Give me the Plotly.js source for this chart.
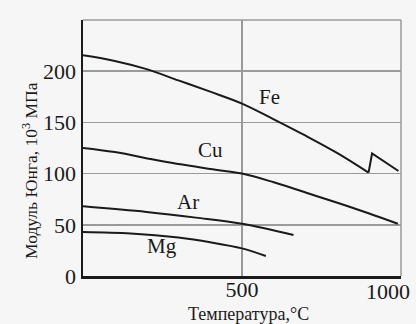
<!DOCTYPE html>
<html>
<head>
<meta charset="utf-8">
<script src="https://cdn.plot.ly/plotly-3.0.1.min.js"></script>
<style>html,body{margin:0;padding:0;background:#f6f6f6;}#chart{width:416px;height:324px;}</style>
</head>
<body>
<div id="chart"></div>
<script>
// Data
var feX = [0, 100, 200, 300, 400, 500, 600, 700, 800, 898];
var feY = [215.5, 210, 202, 191, 180, 168.4, 153, 137, 120, 101];
var feJumpX = [898, 909, 992];
var feJumpY = [101, 119.6, 102.5];
var cuX = [0, 100, 250, 400, 500, 600, 700, 800, 900, 990];
var cuY = [125, 121, 112, 104.5, 100, 91.5, 81.5, 71.5, 61, 51];
var arX = [0, 200, 355, 500, 662];
var arY = [68, 62.5, 57, 51, 40];
var mgX = [0, 150, 300, 400, 500, 575];
var mgY = [43, 41.5, 37.5, 33, 27, 19.5];
var labelNames = ["Fe", "Cu", "Ar", "Mg"];
var labelX = [587, 400, 330, 247];
var labelY = [175, 123, 72, 29];
var xTickVals = [500];
var xTickText = ["500"];
var xEndTickVals = [1000];
var xEndTickText = ["1000"];
var yTickVals = [0, 50, 100, 150, 200, 250];
var yTickText = ["0", "50", "100", "150", "200", ""];
var xTitle = "Температура,°C";
var yTitle = "Модуль Юнга, 10<sup>3</sup> МПа";

var serif = "Liberation Serif, Times New Roman, serif";
var lineStyle = {color: "#1a1a1a", width: 2};
function tr(x, y, shape) {
  return {x: x, y: y, type: "scatter", mode: "lines", line: Object.assign({shape: shape, smoothing: 1}, lineStyle), hoverinfo: "skip", showlegend: false, cliponaxis: false};
}
var data = [
  tr(feX, feY, "spline"),
  tr(feJumpX, feJumpY, "linear"),
  tr(cuX, cuY, "spline"),
  tr(arX, arY, "spline"),
  tr(mgX, mgY, "spline"),
  {x: xEndTickVals, y: [null], xaxis: "x2", yaxis: "y", type: "scatter", mode: "lines", showlegend: false, hoverinfo: "skip"}
];
var annotations = labelNames.map(function (n, i) {
  return {x: labelX[i], y: labelY[i], xref: "x", yref: "y", text: n, showarrow: false,
          font: {family: serif, size: 21, color: "#1a1a1a"}};
});
annotations.push({xref: "paper", yref: "paper", x: -0.167, y: 0.414, text: yTitle, textangle: -90,
  showarrow: false, xanchor: "center", yanchor: "middle", font: {family: serif, size: 17.5, color: "#1a1a1a"}});
annotations.push({xref: "paper", yref: "paper", x: 0.519, y: -0.148, text: xTitle,
  showarrow: false, xanchor: "center", yanchor: "middle", font: {family: serif, size: 18, color: "#1a1a1a"}});
var layout = {
  width: 416, height: 324,
  margin: {l: 83, r: 15, t: 20, b: 48},
  paper_bgcolor: "#f6f6f6", plot_bgcolor: "#f6f6f6",
  font: {family: serif, color: "#1a1a1a"},
  xaxis: {
    range: [0, 1000], tickvals: xTickVals, ticktext: xTickText, ticks: "",
    ticklabelstandoff: -8,
    showgrid: true, gridcolor: "#9a9a9a", gridwidth: 1.5,
    showline: true, linecolor: "#1a1a1a", linewidth: 2.5, zeroline: false,
    tickfont: {size: 22, family: serif},
    fixedrange: true
  },
  xaxis2: {
    overlaying: "x", side: "bottom", anchor: "y",
    range: [0, 1000], tickvals: xEndTickVals, ticktext: xEndTickText, ticks: "",
    ticklabelstandoff: 0, ticklabelshift: -13, ticklabeloverflow: "allow",
    showgrid: false, showline: false, zeroline: false, showticklabels: true,
    tickfont: {size: 22, family: serif},
    fixedrange: true
  },
  yaxis: {
    range: [0, 250], tickvals: yTickVals, ticktext: yTickText, ticks: "",
    showgrid: true, gridcolor: "#9a9a9a", gridwidth: 1.5,
    showline: true, linecolor: "#1a1a1a", linewidth: 2.5, zeroline: false,
    tickfont: {size: 22, family: serif},
    fixedrange: true
  },
  shapes: [
    {type: "line", xref: "paper", yref: "paper", x0: 1, x1: 1, y0: 0, y1: 1, line: {color: "#9a9a9a", width: 1.5}},
    {type: "line", xref: "paper", yref: "paper", x0: 0, x1: 1, y0: 1, y1: 1, line: {color: "#9a9a9a", width: 1.5}}
  ],
  annotations: annotations,
  showlegend: false
};
Plotly.newPlot("chart", data, layout, {displayModeBar: false, staticPlot: true});
</script>
</body>
</html>
